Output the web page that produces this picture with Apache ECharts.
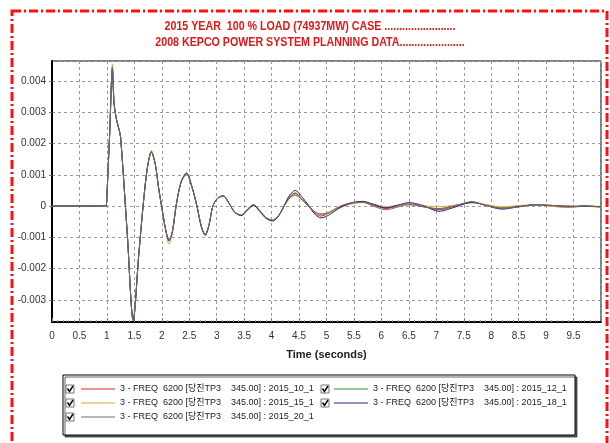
<!DOCTYPE html>
<html><head><meta charset="utf-8">
<script src="https://cdn.jsdelivr.net/npm/echarts@6/dist/echarts.min.js"></script>
<style>html,body{margin:0;padding:0;background:#fff}#c{width:610px;height:443px}</style>
</head><body><div id="c"></div>
<script>
const FONT = '"Liberation Sans","Noto Sans CJK KR",sans-serif';

const titleLines = [
  '2015 YEAR  100 % LOAD (74937MW) CASE ........................',
  '2008 KEPCO POWER SYSTEM PLANNING DATA......................'
];
const xAxisTitle = 'Time (seconds)';

const seriesNames = [
  '3 - FREQ  6200 [당진TP3    345.00] : 2015_10_1',
  '3 - FREQ  6200 [당진TP3    345.00] : 2015_12_1',
  '3 - FREQ  6200 [당진TP3    345.00] : 2015_15_1',
  '3 - FREQ  6200 [당진TP3    345.00] : 2015_18_1',
  '3 - FREQ  6200 [당진TP3    345.00] : 2015_20_1'
];

const times = [0,0.5,0.99,1.0,1.05,1.1,1.13,1.17,1.22,1.25,1.37,1.48,1.58,1.67,1.74,1.81,1.88,1.94,2.0,2.07,2.13,2.19,2.26,2.35,2.45,2.55,2.64,2.72,2.79,2.86,2.93,3.02,3.12,3.22,3.33,3.45,3.56,3.67,3.78,3.9,4.02,4.13,4.23,4.33,4.43,4.56,4.69,4.8,4.9,5.05,5.25,5.45,5.66,5.85,6.08,6.3,6.5,6.75,7.05,7.35,7.65,7.9,8.2,8.5,8.8,9.1,9.4,9.7,10.0];

const freq10 = [0,0,0,0,0.0023,0.0044,0.0033,0.0028,0.00245,0.0022,-0.00086,-0.00366,-0.00157,0.0002,0.00125,0.00173,0.00135,0.0006,-0.00005,-0.00075,-0.0011,-0.00085,0,0.00075,0.00104,0.0006,0,-0.00065,-0.00092,-0.0006,0,0.00025,0.00032,0.0001,-0.0002,-0.0003,-0.00012,0.00002,-0.00015,-0.00038,-0.00046,-0.0003,0,0.0003,0.00042,0.0002,-0.00005,-0.00025,-0.00032,-0.00022,-0.00002,0.0001,0.00013,0.00003,-0.00008,0,0.00007,0,-0.00012,0,0.00013,0.00003,-0.00007,-0.00002,0.00004,0,-0.00004,0,-0.00003];
const freq12 = [0,0,0,0,0.0023,0.00435,0.0033,0.0028,0.00245,0.0022,-0.00086,-0.00366,-0.00157,0.0002,0.00125,0.00173,0.00135,0.0006,-0.00005,-0.00075,-0.00112,-0.00085,0,0.00075,0.00104,0.0006,0,-0.00065,-0.00092,-0.0006,0,0.00025,0.00032,0.0001,-0.0002,-0.0003,-0.00012,0.00002,-0.00015,-0.00038,-0.00046,-0.0003,0,0.00028,0.0004,0.00022,-0.00002,-0.0002,-0.00026,-0.0002,-0.00003,0.00008,0.00012,0.00005,-0.00005,0.00002,0.00005,-0.00002,-0.00008,0.00002,0.00011,0.00004,-0.00005,0,0.00003,0.00001,-0.00003,0.00001,-0.00002];
const freq15 = [0,0,0,0,0.0023,0.00455,0.0034,0.0028,0.00245,0.0022,-0.00086,-0.00368,-0.00157,0.0002,0.00127,0.00178,0.00137,0.0006,-0.00005,-0.00078,-0.00122,-0.0009,0,0.00074,0.00102,0.0006,0,-0.00064,-0.0009,-0.0006,0,0.00024,0.0003,0.0001,-0.00019,-0.00028,-0.0001,0.00004,-0.00014,-0.00037,-0.00044,-0.00029,0,0.00026,0.00036,0.0002,-0.00003,-0.0002,-0.00028,-0.00022,-0.00005,0.00006,0.00011,0.00006,-0.00002,0.00001,0.00004,0.00001,-0.00002,0.00003,0.0001,0.00005,-0.00003,0.00002,0.00003,-0.00001,-0.00005,-0.00001,-0.00004];
const freq18 = [0,0,0,0,0.0023,0.0044,0.0033,0.0028,0.00245,0.0022,-0.00086,-0.00366,-0.00157,0.0002,0.00125,0.00173,0.00135,0.0006,-0.00004,-0.00075,-0.0011,-0.00085,0,0.00077,0.00106,0.00062,0,-0.00067,-0.00094,-0.00062,0,0.00026,0.00033,0.0001,-0.0002,-0.00031,-0.00012,0.00002,-0.00016,-0.0004,-0.00048,-0.00031,0.00002,0.00035,0.0005,0.00028,-0.00002,-0.00028,-0.00038,-0.00028,-0.00005,0.0001,0.00015,0.00006,-0.00006,0.00003,0.00011,0.00002,-0.00017,-0.00003,0.00012,0.00002,-0.0001,-0.00002,0.00004,0.00002,0,-0.00001,-0.00002];
const freq20 = [0,0,0,0,0.0023,0.00445,0.0033,0.00282,0.00248,0.0022,-0.00086,-0.00366,-0.00157,0.0002,0.00125,0.00172,0.00135,0.0006,-0.00005,-0.00075,-0.00108,-0.00084,0,0.00075,0.00103,0.0006,0,-0.00064,-0.00091,-0.0006,0,0.00026,0.00033,0.00011,-0.00019,-0.00029,-0.0001,0.00005,-0.00013,-0.00037,-0.00045,-0.00029,0,0.00025,0.00035,0.00018,-0.00004,-0.0002,-0.00026,-0.0002,0,0.0001,0.00012,0,-0.00012,-0.00003,0.00005,-0.00002,-0.0001,0.00002,0.00014,0.00002,-0.00008,-0.00003,0.00005,0.00002,-0.00003,0,-0.00003];

const seriesValues = [freq10, freq12, freq15, freq18, freq20];
const seriesColors = ['#e02424', '#2e8b2e', '#f0a040', '#24248f', '#6e6e6e'];

const chart = echarts.init(document.getElementById('c'), null, {renderer: 'canvas'});

const series = seriesNames.map((name, k) => ({
  name: name,
  type: 'line',
  data: times.map((t, i) => [t, seriesValues[k][i]]),
  symbol: 'none',
  showSymbol: false,
  smooth: 0.3,
  lineStyle: {width: 1, color: seriesColors[k]},
  itemStyle: {color: seriesColors[k]},
  emphasis: {disabled: true},
  z: 2 + k
}));

const rowY = [389, 403, 417];
function checkbox(x, y) {
  return {
    type: 'group', silent: true,
    children: [
      {type: 'rect', shape: {x: x, y: y - 4, width: 8, height: 8}, style: {fill: '#fff', stroke: '#777', lineWidth: 1}},
      {type: 'polyline', shape: {points: [[x + 1.5, y - 0.5], [x + 3.5, y + 2.5], [x + 7, y - 3]]}, style: {stroke: '#000', lineWidth: 1.5, fill: null}}
    ]
  };
}

const legendCommon = {
  orient: 'vertical', itemWidth: 34, itemHeight: 10, itemGap: 2, padding: 0,
  selectedMode: false, icon: 'path://M0,4.5H34V5.5H0Z',
  textStyle: {fontSize: 9, lineHeight: 12, color: '#222', fontFamily: FONT}
};

const option = {
  animation: false,
  backgroundColor: '#fff',
  grid: {left: 52, top: 61, right: 9, bottom: 121, show: true, borderColor: '#000', borderWidth: 1, backgroundColor: '#fff'},
  xAxis: {
    type: 'value', min: 0, max: 10, interval: 0.5,
    name: xAxisTitle, nameLocation: 'middle', nameGap: 27,
    nameTextStyle: {fontWeight: 'bold', fontSize: 11, fontFamily: FONT, color: '#222'},
    axisLine: {show: true, onZero: false, lineStyle: {color: '#000', width: 2}},
    axisTick: {show: true, inside: true, length: 4, lineStyle: {color: '#777'}},
    minorTick: {show: true, splitNumber: 5, length: 2, lineStyle: {color: '#999'}},
    splitLine: {show: true, lineStyle: {color: '#9a9a9a', type: [3, 3], width: 1}},
    axisLabel: {margin: 9, fontSize: 10, color: '#333', fontFamily: FONT, showMaxLabel: false}
  },
  yAxis: {
    type: 'value', min: -0.00371, max: 0.00464, splitNumber: 8,
    axisLine: {show: true, lineStyle: {color: '#000', width: 2}},
    axisTick: {show: true, length: 3, lineStyle: {color: '#777'}},
    splitLine: {show: true, lineStyle: {color: '#9a9a9a', type: [3, 3], width: 1}},
    axisLabel: {margin: 6, fontSize: 10, color: '#333', fontFamily: FONT, showMinLabel: false, showMaxLabel: false}
  },
  legend: [
    Object.assign({}, legendCommon, {left: 81, top: rowY[0] - 6, data: [seriesNames[0], seriesNames[2], seriesNames[4]]}),
    Object.assign({}, legendCommon, {left: 334, top: rowY[0] - 6, data: [seriesNames[1], seriesNames[3]]})
  ],
  series: series,
  graphic: [
    {type: 'rect', silent: true, z: -10, shape: {x: 12, y: 11, width: 595, height: 470},
     style: {fill: null, stroke: '#ff1010', lineWidth: 3, lineDash: [9, 3, 2, 3]}},
    {type: 'text', silent: true, x: 310, y: 26, scaleX: 0.82,
     style: {text: titleLines[0], fill: '#e01818', font: 'bold 13px ' + FONT, align: 'center', verticalAlign: 'middle'}},
    {type: 'text', silent: true, x: 310, y: 42, scaleX: 0.82,
     style: {text: titleLines[1], fill: '#e01818', font: 'bold 13px ' + FONT, align: 'center', verticalAlign: 'middle'}},
    {type: 'rect', silent: true, z: -5, shape: {x: 63, y: 375, width: 512, height: 60},
     style: {fill: '#fff', stroke: '#000', lineWidth: 1, shadowColor: 'rgba(0,0,0,0.6)', shadowOffsetX: 2, shadowOffsetY: 2, shadowBlur: 0}},
    checkbox(66, rowY[0]), checkbox(66, rowY[1]), checkbox(66, rowY[2]),
    checkbox(321, rowY[0]), checkbox(321, rowY[1])
  ]
};
chart.setOption(option);
</script>
</body></html>
